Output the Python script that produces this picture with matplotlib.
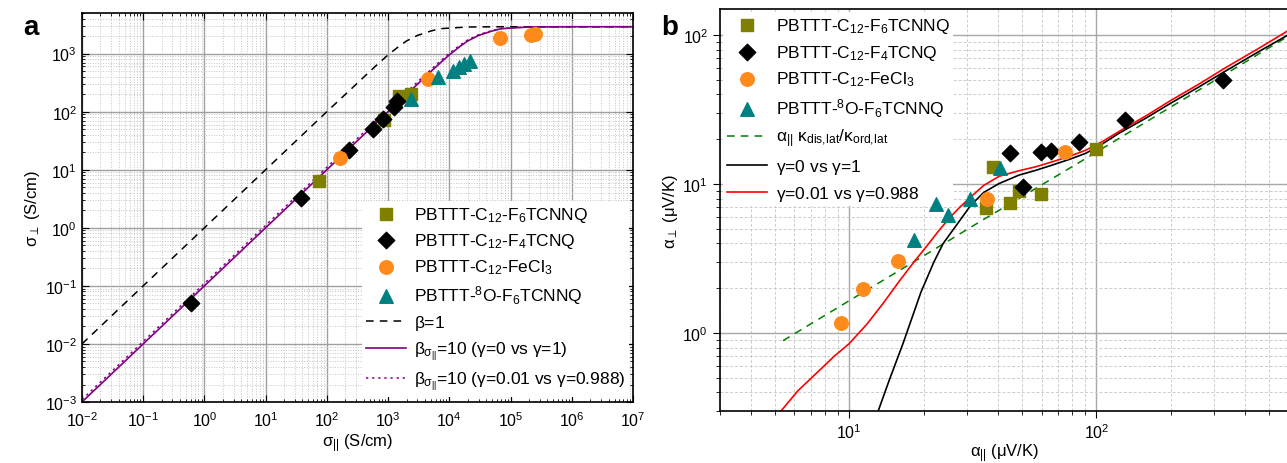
import numpy as np
import matplotlib
matplotlib.use("Agg")
import matplotlib.pyplot as plt
from matplotlib.ticker import LogLocator, LogFormatterSciNotation, NullFormatter

plt.rcParams['font.family'] = ['Liberation Sans', 'DejaVu Sans']
plt.rcParams['mathtext.fontset'] = 'custom'
plt.rcParams['mathtext.rm'] = 'Liberation Sans'
plt.rcParams['mathtext.it'] = 'Liberation Sans'
plt.rcParams['mathtext.bf'] = 'Liberation Sans:bold'

# ---------------- panel a : conductivity ----------------
sig_grid = [1e-2, 1e-1, 1, 10, 100, 300, 500, 700, 1e3, 1.5e3, 2e3, 3e3, 5e3,
            7e3, 1e4, 2e4, 3e4, 5e4, 7e4, 1e5, 2e5, 3e5, 1e6, 1e7]
beta1 = [1e-2, 0.1, 1, 10, 100, 295, 490, 680, 950, 1330, 1650, 2050, 2450,
         2680, 2750, 2870, 2880, 2895, 2900, 2900, 2900, 2900, 2900, 2900]
sig_grid_b = [1e-2, 1e-1, 1, 10, 100, 1e3, 3e3, 5e3, 7e3, 1e4, 1.5e4, 2e4, 3e4,
              5e4, 7e4, 1e5, 2e5, 3e5, 1e6, 1e7]
beta10_g0 = [1e-3, 1e-2, 0.1, 1, 10, 100, 295, 490, 680, 950, 1330, 1650, 2050,
             2450, 2680, 2750, 2870, 2880, 2900, 2900]
beta10_g001 = [1.1e-3, 1.1e-2, 0.11, 1.1, 11, 110, 322, 530, 730, 1010, 1400,
               1720, 2110, 2500, 2700, 2770, 2875, 2890, 2900, 2900]

a_f6_x = [75, 860, 1530, 2340]
a_f6_y = [6.3, 73, 189, 204]
a_f4_x = [0.6, 38, 230, 575, 818, 1250, 1380]
a_f4_y = [0.05, 3.2, 22, 50, 75, 120, 150]
a_fe_x = [165, 4470, 67500, 220000, 250000]
a_fe_y = [16, 370, 1860, 2100, 2150]
a_8o_x = [2340, 6450, 11700, 14500, 17500, 21500]
a_8o_y = [168, 400, 510, 580, 650, 760]

# ---------------- panel b : Seebeck ----------------
green_x = [5.4, 10, 20, 35, 50, 100, 200, 400, 600]
green_y = [0.89, 1.65, 3.3, 5.8, 8.25, 16.4, 33, 66, 99]
black_x = [13.1, 14.5, 16.5, 19.5, 22, 24, 27.8, 31, 35, 40.4, 48.6, 57, 66,
           78, 90.5, 105, 123, 160, 200, 260, 330, 450, 600]
black_y = [0.3, 0.48, 0.85, 1.88, 3.0, 4.0, 5.6, 7.2, 8.8, 10.1, 11.5, 12.4,
           13.4, 14.7, 16.1, 18.5, 21.9, 28, 35, 45, 57, 77, 101]
red_x = [5.3, 6.2, 7.56, 8.7, 10, 11.8, 13.7, 16, 18.5, 21, 23.1, 25.4, 28, 31,
         35, 40.4, 48.6, 57, 66, 78, 90.5, 105, 123, 160, 200, 260, 330, 450, 600]
red_y = [0.3, 0.41, 0.56, 0.7, 0.85, 1.15, 1.58, 2.25, 3.08, 4.0, 4.9, 5.9, 7.0,
         8.2, 9.8, 11.3, 12.3, 13.1, 14.1, 15.4, 16.9, 19.2, 22.5, 29, 36.5, 47,
         60, 81, 108]

b_f6_x = [35.6, 38.2, 44.7, 48.6, 59.4, 100]
b_f6_y = [6.9, 13.1, 7.5, 9.0, 8.6, 17.2]
b_f4_x = [44.7, 50.5, 59.4, 65.3, 85, 131, 324]
b_f4_y = [16.1, 9.5, 16.5, 16.7, 19.3, 27, 50]
b_fe_x = [9.28, 11.4, 15.8, 36, 74.5]
b_fe_y = [1.17, 1.97, 3.04, 7.9, 16.5]
b_8o_x = [18.3, 22.5, 25.2, 30.9, 40.8]
b_8o_y = [4.2, 7.4, 6.2, 7.95, 12.9]

OLIVE = '#808000'
ORANGE = '#ff8a1c'
TEAL = '#008080'
PURPLE = '#800080'

lbl_f6 = 'PBTTT-C$_{12}$-F$_6$TCNNQ'
lbl_f4 = 'PBTTT-C$_{12}$-F$_4$TCNQ'
lbl_fe = 'PBTTT-C$_{12}$-FeCl$_3$'
lbl_8o = 'PBTTT-$^8$O-F$_6$TCNNQ'


def log_axes(ax):
    ax.set_xscale('log')
    ax.set_yscale('log')
    for axis in (ax.xaxis, ax.yaxis):
        axis.set_major_locator(LogLocator(base=10, numticks=30))
        axis.set_minor_locator(LogLocator(base=10, subs=np.arange(2, 10), numticks=100))
        axis.set_major_formatter(LogFormatterSciNotation())
        axis.set_minor_formatter(NullFormatter())
    ax.set_axisbelow(True)


fig = plt.figure(figsize=(12.87, 4.64), dpi=100)

# panel a
ax1 = fig.add_axes([0.0637, 0.1315, 0.4281, 0.8383])
log_axes(ax1)
ax1.grid(True, which='major', color='#a0a0a0', lw=1.0)
ax1.grid(True, which='minor', color='#c4c4c4', lw=0.7, ls=':')
ax1.plot(sig_grid, beta1, ls=(0, (5, 4)), color='black', lw=1.1, label=r'$\beta$=1')
ax1.plot(sig_grid_b, beta10_g0, color=PURPLE, lw=1.2,
         label=r'$\beta_{\sigma_{||}}$=10 ($\gamma$=0 vs $\gamma$=1)')
ax1.plot(sig_grid_b, beta10_g001, color=PURPLE, lw=1.1, ls=(0, (1.5, 2.5)),
         label=r'$\beta_{\sigma_{||}}$=10 ($\gamma$=0.01 vs $\gamma$=0.988)')
ax1.scatter(a_f6_x, a_f6_y, marker='s', s=80, color=OLIVE, zorder=6, label=lbl_f6)
ax1.scatter(a_f4_x, a_f4_y, marker='D', s=70, color='black', zorder=6, label=lbl_f4)
ax1.scatter(a_fe_x, a_fe_y, marker='o', s=95, color=ORANGE, zorder=6, label=lbl_fe)
ax1.scatter(a_8o_x, a_8o_y, marker='^', s=95, color=TEAL, zorder=6, label=lbl_8o)
ax1.set_xlim(1e-2, 1e7)
ax1.set_ylim(1e-3, 5e3)
ax1.tick_params(which='both', direction='in', top=True, right=True, labelsize=11.5)
ax1.tick_params(which='major', length=5)
ax1.tick_params(axis='x', which='major', pad=6)
ax1.tick_params(which='minor', length=2.5)
ax1.set_xlabel(r'$\sigma_{||}$ (S/cm)', fontsize=12, labelpad=2)
ax1.set_ylabel(r'$\sigma_{\perp}$ (S/cm)', fontsize=12, labelpad=2)
for sp in ax1.spines.values():
    sp.set_linewidth(1.2)
hs, ls = ax1.get_legend_handles_labels()
order = [3, 4, 5, 6, 0, 1, 2]
leg1 = ax1.legend([hs[i] for i in order], [ls[i] for i in order], loc='lower right',
                  bbox_to_anchor=(1.0, 0.005), fontsize=12.5, frameon=True,
                  facecolor='white', edgecolor='none', framealpha=1, fancybox=False,
                  handlelength=2.3, handletextpad=0.5, labelspacing=0.42,
                  borderpad=0.2, borderaxespad=0.2)
leg1.set_zorder(4.5)

# panel b
ax2 = fig.add_axes([0.5594, 0.1121, 0.4420, 0.8664])
log_axes(ax2)
ax2.grid(True, which='major', color='#a8a8a8', lw=1.0)
ax2.grid(True, which='minor', color='#cccccc', lw=0.7, ls=(0, (3, 2)))
ax2.plot(green_x, green_y, color='#008000', lw=1.1, ls=(0, (5, 4)),
         label=r'$\alpha_{||}$ $\kappa_{dis,\!lat}$/$\kappa_{ord,\!lat}$')
ax2.plot(black_x, black_y, color='black', lw=1.2, label=r'$\gamma$=0 vs $\gamma$=1')
ax2.plot(red_x, red_y, color='#ff0000', lw=1.2, label=r'$\gamma$=0.01 vs $\gamma$=0.988')
ax2.scatter(b_f6_x, b_f6_y, marker='s', s=80, color=OLIVE, zorder=6, label=lbl_f6)
ax2.scatter(b_f4_x, b_f4_y, marker='D', s=70, color='black', zorder=6, label=lbl_f4)
ax2.scatter(b_fe_x, b_fe_y, marker='o', s=95, color=ORANGE, zorder=6, label=lbl_fe)
ax2.scatter(b_8o_x, b_8o_y, marker='^', s=95, color=TEAL, zorder=6, label=lbl_8o)
ax2.set_xlim(3, 600)
ax2.set_ylim(0.3, 150)
ax2.tick_params(which='both', direction='out', labelsize=11.5)
ax2.tick_params(which='major', length=5)
ax2.tick_params(which='minor', length=3)
ax2.set_xlabel(r'$\alpha_{||}$ ($\mu$V/K)', fontsize=12, labelpad=0)
ax2.set_ylabel(r'$\alpha_{\perp}$ ($\mu$V/K)', fontsize=12, labelpad=2)
for sp in ax2.spines.values():
    sp.set_linewidth(1.2)
hs, ls = ax2.get_legend_handles_labels()
order = [3, 4, 5, 6, 0, 1, 2]
leg2 = ax2.legend([hs[i] for i in order], [ls[i] for i in order], loc='upper left',
                  bbox_to_anchor=(0.0, 1.0), fontsize=12.5, frameon=True,
                  facecolor='white', edgecolor='none', framealpha=1, fancybox=False,
                  handlelength=2.3, handletextpad=0.5, labelspacing=0.45,
                  borderpad=0.2, borderaxespad=0.2)
leg2.set_zorder(4.5)

fig.text(0.018, 0.925, 'a', fontsize=20, fontweight='bold')
fig.text(0.514, 0.925, 'b', fontsize=20, fontweight='bold')

fig.savefig('out.png', dpi=100)
